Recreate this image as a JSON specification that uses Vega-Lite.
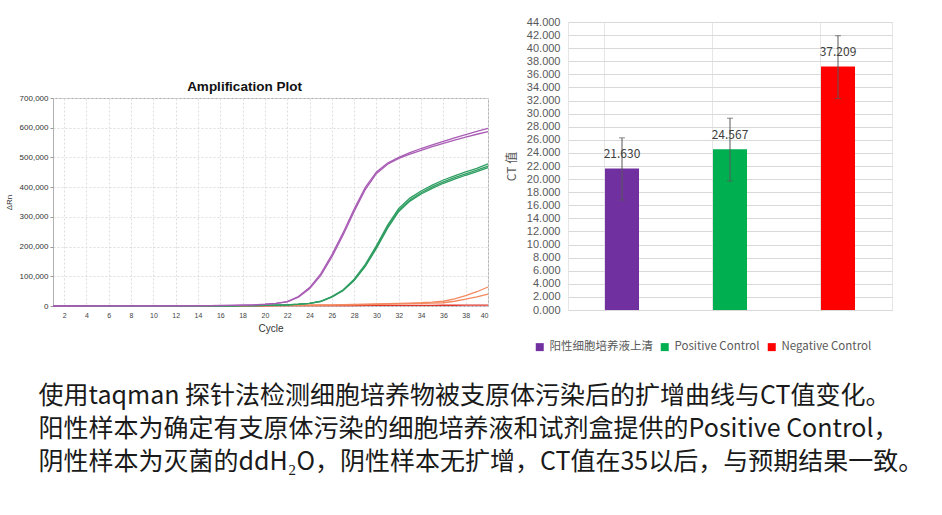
{
  "$schema": "https://vega.github.io/schema/vega-lite/v6.json",
  "background": "white",
  "padding": {"left": 4, "top": 15, "right": 0, "bottom": 0},
  "config": {"view": {"stroke": null}},
  "resolve": {"scale": {"color": "independent"}, "legend": {"color": "independent"}},
  "title": {
    "text": [
      "使用taqman 探针法检测细胞培养物被支原体污染后的扩增曲线与CT值变化。",
      "阳性样本为确定有支原体污染的细胞培养液和试剂盒提供的Positive Control，",
      "阴性样本为灭菌的ddH₂O，阴性样本无扩增，CT值在35以后，与预期结果一致。"
    ],
    "orient": "bottom",
    "anchor": "start",
    "dx": 34,
    "offset": 30,
    "font": "Noto Sans CJK SC",
    "fontSize": 25,
    "fontWeight": "normal",
    "lineHeight": 33,
    "color": "#1a1a1a"
  },
  "spacing": 12,
  "hconcat": [
    {
      "spacing": 0,
      "vconcat": [
        {
          "width": 435,
          "height": 57,
          "data": {"values": [{"blank": ""}]},
          "mark": {"type": "text"},
          "encoding": {}
        },
        {
          "width": 435,
          "height": 208,
          "view": {"stroke": "#b0b0b0", "strokeWidth": 1},
          "title": {
            "text": "Amplification Plot",
            "font": "Liberation Sans",
            "fontSize": 13.5,
            "fontWeight": "bold",
            "color": "#111111",
            "offset": 1,
            "dx": -26
          },
          "data": {
            "values": [
              {"cycle": 1, "P1": 0, "P2": 0, "G1": 0, "G2": 0, "G3": 0, "O1": 500, "O2": 400, "R1": 300},
              {"cycle": 5, "P1": 200, "P2": 200, "G1": 200, "G2": 200, "G3": 200, "O1": 500, "O2": 400, "R1": 300},
              {"cycle": 10, "P1": 500, "P2": 500, "G1": 400, "G2": 400, "G3": 400, "O1": 600, "O2": 500, "R1": 400},
              {"cycle": 15, "P1": 1000, "P2": 1000, "G1": 600, "G2": 600, "G3": 600, "O1": 700, "O2": 600, "R1": 500},
              {"cycle": 17, "P1": 2000, "P2": 2000, "G1": 800, "G2": 800, "G3": 800, "O1": 800, "O2": 700, "R1": 600},
              {"cycle": 18, "P1": 3000, "P2": 3000, "G1": 1000, "G2": 1000, "G3": 1000, "O1": 900, "O2": 800, "R1": 700},
              {"cycle": 19, "P1": 4000, "P2": 4000, "G1": 1200, "G2": 1200, "G3": 1200, "O1": 1000, "O2": 900, "R1": 800},
              {"cycle": 20, "P1": 6000, "P2": 5500, "G1": 2000, "G2": 2000, "G3": 2000, "O1": 1200, "O2": 1000, "R1": 900},
              {"cycle": 21, "P1": 9000, "P2": 8500, "G1": 3000, "G2": 3000, "G3": 3000, "O1": 1600, "O2": 1400, "R1": 1000},
              {"cycle": 22, "P1": 15000, "P2": 14000, "G1": 4000, "G2": 4000, "G3": 4000, "O1": 2000, "O2": 1800, "R1": 1100},
              {"cycle": 23, "P1": 32000, "P2": 30000, "G1": 6000, "G2": 6000, "G3": 5500, "O1": 2500, "O2": 2200, "R1": 1200},
              {"cycle": 24, "P1": 62000, "P2": 58000, "G1": 9000, "G2": 9000, "G3": 8500, "O1": 3000, "O2": 2500, "R1": 1300},
              {"cycle": 25, "P1": 108000, "P2": 102000, "G1": 16000, "G2": 15500, "G3": 15000, "O1": 3300, "O2": 2800, "R1": 1400},
              {"cycle": 26, "P1": 172000, "P2": 165000, "G1": 32000, "G2": 31000, "G3": 30000, "O1": 3600, "O2": 3100, "R1": 1500},
              {"cycle": 27, "P1": 246000, "P2": 238000, "G1": 54000, "G2": 53000, "G3": 51000, "O1": 4200, "O2": 3500, "R1": 1600},
              {"cycle": 28, "P1": 326000, "P2": 318000, "G1": 90000, "G2": 88000, "G3": 86000, "O1": 5000, "O2": 4000, "R1": 1700},
              {"cycle": 29, "P1": 399000, "P2": 392000, "G1": 140000, "G2": 136000, "G3": 133000, "O1": 6000, "O2": 4600, "R1": 1800},
              {"cycle": 30, "P1": 451000, "P2": 446000, "G1": 203000, "G2": 198000, "G3": 194000, "O1": 7000, "O2": 5200, "R1": 1900},
              {"cycle": 31, "P1": 481000, "P2": 477000, "G1": 272000, "G2": 266000, "G3": 262000, "O1": 8000, "O2": 6000, "R1": 2000},
              {"cycle": 32, "P1": 500000, "P2": 497000, "G1": 328000, "G2": 322000, "G3": 318000, "O1": 9000, "O2": 7000, "R1": 2100},
              {"cycle": 33, "P1": 516000, "P2": 511000, "G1": 363000, "G2": 357000, "G3": 353000, "O1": 10000, "O2": 7800, "R1": 2200},
              {"cycle": 34, "P1": 530000, "P2": 524000, "G1": 387000, "G2": 381000, "G3": 377000, "O1": 11000, "O2": 8500, "R1": 2300},
              {"cycle": 35, "P1": 542000, "P2": 536000, "G1": 407000, "G2": 401000, "G3": 396000, "O1": 13000, "O2": 9500, "R1": 2400},
              {"cycle": 36, "P1": 554000, "P2": 547000, "G1": 424000, "G2": 418000, "G3": 413000, "O1": 16000, "O2": 11000, "R1": 2500},
              {"cycle": 37, "P1": 566000, "P2": 558000, "G1": 438000, "G2": 432000, "G3": 427000, "O1": 24000, "O2": 16000, "R1": 2600},
              {"cycle": 38, "P1": 577000, "P2": 568000, "G1": 451000, "G2": 445000, "G3": 440000, "O1": 35000, "O2": 23000, "R1": 2700},
              {"cycle": 39, "P1": 588000, "P2": 578000, "G1": 463000, "G2": 457000, "G3": 452000, "O1": 48000, "O2": 31000, "R1": 2800},
              {"cycle": 40, "P1": 598000, "P2": 587000, "G1": 478000, "G2": 471000, "G3": 466000, "O1": 64000, "O2": 40000, "R1": 3000}
            ]
          },
          "transform": [
            {"fold": ["R1", "O2", "O1", "G3", "G2", "G1", "P2", "P1"], "as": ["series", "drn"]}
          ],
          "mark": {"type": "line", "strokeWidth": 1.3},
          "encoding": {
            "x": {
              "field": "cycle",
              "type": "quantitative",
              "scale": {"domain": [1, 40], "nice": false, "zero": false},
              "axis": {
                "values": [2, 4, 6, 8, 10, 12, 14, 16, 18, 20, 22, 24, 26, 28, 30, 32, 34, 36, 38, 40],
                "labelOverlap": false,
                "title": "Cycle",
                "titleFont": "Liberation Sans",
                "titleFontSize": 10,
                "titleFontWeight": "normal",
                "titleColor": "#333333",
                "titlePadding": 5,
                "labelFont": "Liberation Sans",
                "labelFontSize": 7,
                "labelColor": "#444444",
                "domain": false,
                "ticks": false,
                "labelPadding": 5,
                "grid": true,
                "gridColor": "#dddddd",
                "gridDash": [2, 2],
                "gridWidth": 1
              }
            },
            "y": {
              "field": "drn",
              "type": "quantitative",
              "scale": {"domain": [0, 700000], "nice": false},
              "axis": {
                "values": [0, 100000, 200000, 300000, 400000, 500000, 600000, 700000],
                "labelOverlap": false,
                "format": ",.0f",
                "title": "ΔRn",
                "titleFont": "Liberation Sans",
                "titleFontSize": 8,
                "titleFontWeight": "normal",
                "titleColor": "#333333",
                "titlePadding": 6,
                "labelFont": "Liberation Sans",
                "labelFontSize": 8,
                "labelColor": "#333333",
                "domain": false,
                "ticks": true,
                "tickSize": 3,
                "tickColor": "#999999",
                "labelPadding": 2,
                "grid": true,
                "gridColor": "#dddddd",
                "gridDash": [2, 2],
                "gridWidth": 1
              }
            },
            "color": {
              "field": "series",
              "type": "nominal",
              "scale": {
                "domain": ["P1", "P2", "G1", "G2", "G3", "O1", "O2", "R1"],
                "range": ["#a85cb4", "#a85cb4", "#2f9e62", "#2f9e62", "#2f9e62", "#f3895f", "#f3895f", "#e0352b"]
              },
              "legend": null
            },
            "order": {"field": "cycle"}
          }
        }
      ]
    },
    {
      "width": 324,
      "height": 288,
      "view": {"stroke": "#e6e6e6", "strokeWidth": 1},
      "data": {
        "values": [
          {"group": "阳性细胞培养液上清", "ct": 21.63, "lo": 16.8, "hi": 26.3},
          {"group": "Positive Control", "ct": 24.567, "lo": 19.7, "hi": 29.3},
          {"group": "Negative Control", "ct": 37.209, "lo": 32.3, "hi": 41.9}
        ]
      },
      "encoding": {
        "x": {
          "field": "group",
          "type": "nominal",
          "sort": null,
          "scale": {"paddingInner": 0.685, "paddingOuter": 0.3425},
          "axis": {
            "labels": false,
            "ticks": false,
            "domain": false,
            "title": null,
            "grid": true,
            "bandPosition": 0,
            "gridColor": "#e6e6e6"
          }
        }
      },
      "layer": [
        {
          "mark": {"type": "bar"},
          "encoding": {
            "y": {
              "field": "ct",
              "type": "quantitative",
              "scale": {"domain": [0, 44], "nice": false},
              "axis": {
                "values": [0, 2, 4, 6, 8, 10, 12, 14, 16, 18, 20, 22, 24, 26, 28, 30, 32, 34, 36, 38, 40, 42, 44],
                "labelOverlap": false,
                "format": ".3f",
                "title": "CT 值",
                "titleFont": "Noto Sans CJK SC",
                "titleFontSize": 12,
                "titleFontWeight": "normal",
                "titleColor": "#595959",
                "titlePadding": 8,
                "labelFont": "Liberation Sans",
                "labelFontSize": 11,
                "labelColor": "#595959",
                "labelPadding": 8,
                "domain": false,
                "ticks": false,
                "grid": true,
                "gridColor": "#d9d9d9",
                "gridWidth": 1
              }
            },
            "color": {
              "field": "group",
              "type": "nominal",
              "sort": null,
              "scale": {
                "domain": ["阳性细胞培养液上清", "Positive Control", "Negative Control"],
                "range": ["#7030a0", "#00b050", "#ff0000"]
              },
              "legend": {
                "orient": "none",
                "legendX": -34,
                "legendY": 319,
                "direction": "horizontal",
                "title": null,
                "symbolType": "square",
                "symbolSize": 64,
                "symbolStrokeWidth": 0,
                "labelFont": "Noto Sans CJK SC",
                "labelFontSize": 11.5,
                "labelColor": "#595959",
                "labelOffset": 4,
                "columnPadding": 6
              }
            }
          }
        },
        {
          "mark": {"type": "rule", "color": "#595959", "strokeWidth": 1},
          "encoding": {
            "y": {
              "field": "lo",
              "type": "quantitative",
              "axis": {
                "values": [0, 2, 4, 6, 8, 10, 12, 14, 16, 18, 20, 22, 24, 26, 28, 30, 32, 34, 36, 38, 40, 42, 44],
                "labelOverlap": false,
                "format": ".3f",
                "title": "CT 值",
                "titleFont": "Noto Sans CJK SC",
                "titleFontSize": 12,
                "titleFontWeight": "normal",
                "titleColor": "#595959",
                "titlePadding": 8,
                "labelFont": "Liberation Sans",
                "labelFontSize": 11,
                "labelColor": "#595959",
                "labelPadding": 8,
                "domain": false,
                "ticks": false,
                "grid": true,
                "gridColor": "#d9d9d9",
                "gridWidth": 1
              }
            },
            "y2": {"field": "hi"}
          }
        },
        {
          "mark": {"type": "tick", "color": "#595959", "size": 6, "thickness": 1},
          "encoding": {
            "y": {
              "field": "lo",
              "type": "quantitative",
              "axis": {
                "values": [0, 2, 4, 6, 8, 10, 12, 14, 16, 18, 20, 22, 24, 26, 28, 30, 32, 34, 36, 38, 40, 42, 44],
                "labelOverlap": false,
                "format": ".3f",
                "title": "CT 值",
                "titleFont": "Noto Sans CJK SC",
                "titleFontSize": 12,
                "titleFontWeight": "normal",
                "titleColor": "#595959",
                "titlePadding": 8,
                "labelFont": "Liberation Sans",
                "labelFontSize": 11,
                "labelColor": "#595959",
                "labelPadding": 8,
                "domain": false,
                "ticks": false,
                "grid": true,
                "gridColor": "#d9d9d9",
                "gridWidth": 1
              }
            }
          }
        },
        {
          "mark": {"type": "tick", "color": "#595959", "size": 6, "thickness": 1},
          "encoding": {
            "y": {
              "field": "hi",
              "type": "quantitative",
              "axis": {
                "values": [0, 2, 4, 6, 8, 10, 12, 14, 16, 18, 20, 22, 24, 26, 28, 30, 32, 34, 36, 38, 40, 42, 44],
                "labelOverlap": false,
                "format": ".3f",
                "title": "CT 值",
                "titleFont": "Noto Sans CJK SC",
                "titleFontSize": 12,
                "titleFontWeight": "normal",
                "titleColor": "#595959",
                "titlePadding": 8,
                "labelFont": "Liberation Sans",
                "labelFontSize": 11,
                "labelColor": "#595959",
                "labelPadding": 8,
                "domain": false,
                "ticks": false,
                "grid": true,
                "gridColor": "#d9d9d9",
                "gridWidth": 1
              }
            }
          }
        },
        {
          "mark": {"type": "text", "dy": -14, "font": "Noto Sans CJK SC", "fontSize": 12, "color": "#404040"},
          "encoding": {
            "y": {
              "field": "ct",
              "type": "quantitative",
              "axis": {
                "values": [0, 2, 4, 6, 8, 10, 12, 14, 16, 18, 20, 22, 24, 26, 28, 30, 32, 34, 36, 38, 40, 42, 44],
                "labelOverlap": false,
                "format": ".3f",
                "title": "CT 值",
                "titleFont": "Noto Sans CJK SC",
                "titleFontSize": 12,
                "titleFontWeight": "normal",
                "titleColor": "#595959",
                "titlePadding": 8,
                "labelFont": "Liberation Sans",
                "labelFontSize": 11,
                "labelColor": "#595959",
                "labelPadding": 8,
                "domain": false,
                "ticks": false,
                "grid": true,
                "gridColor": "#d9d9d9",
                "gridWidth": 1
              }
            },
            "text": {"field": "ct", "type": "quantitative", "format": ".3f"}
          }
        }
      ]
    }
  ]
}
